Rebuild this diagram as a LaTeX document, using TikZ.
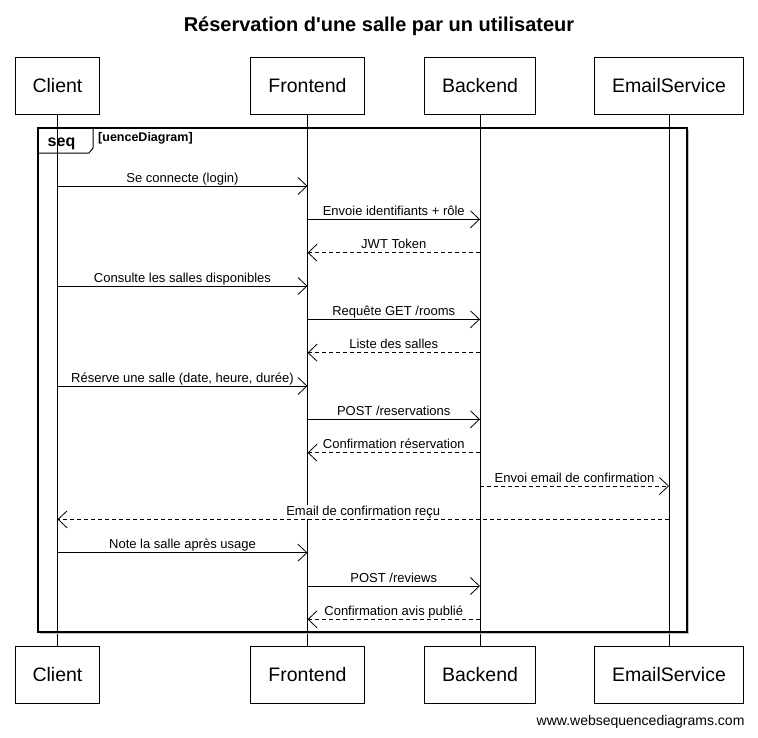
\documentclass[tikz,border=0pt]{standalone}
\usepackage{fontspec}
\setmainfont{Liberation Sans}
\usetikzlibrary{arrows.meta}

\tikzset{
    partbox/.style={draw, line width=0.9pt, minimum height=57pt, inner sep=0pt, font=\fontsize{19.5}{21}\selectfont},
    lifeline/.style={line width=0.8pt},
    msglabel/.style={fill=white, inner sep=1pt, anchor=base, yshift=4pt, font=\fontsize{13}{15}\selectfont},
    msg/.style={-{Straight Barb[length=9pt,width=17pt]}, line width=0.8pt},
    reply/.style={msg, dash pattern=on 4pt off 3pt},
}

\begin{document}
\begin{tikzpicture}[x=1pt,y=-1pt]
    \useasboundingbox (0,0) rectangle (758,737);

    \node[anchor=base, font=\bfseries\fontsize{20}{22}\selectfont] (title) at (379,31.5) {Réservation d\textquotesingle une salle par un utilisateur};

    \node[partbox, minimum width=84pt] (client) at (57.5,85.5) {Client};
    \node[partbox, minimum width=114pt] (front) at (307.5,85.5) {Frontend};
    \node[partbox, minimum width=111pt] (back) at (480,85.5) {Backend};
    \node[partbox, minimum width=149pt] (email) at (669,85.5) {EmailService};

    \node[partbox, minimum width=84pt] (clientb) at (57.5,674.5) {Client};
    \node[partbox, minimum width=114pt] (frontb) at (307.5,674.5) {Frontend};
    \node[partbox, minimum width=111pt] (backb) at (480,674.5) {Backend};
    \node[partbox, minimum width=149pt] (emailb) at (669,674.5) {EmailService};

    \draw[lifeline] (client) -- (clientb);
    \draw[lifeline] (front) -- (frontb);
    \draw[lifeline] (back) -- (backb);
    \draw[lifeline] (email) -- (emailb);

    \draw[gray!50, line width=1pt] (40,633.6) -- (688.6,633.6) -- (688.6,130);
    \draw[line width=1.6pt] (38,128) rectangle (687,632);
    \draw[line width=1pt] (38,153) -- (89,153) -- (93,148) -- (93,128);
    \node[anchor=base, font=\bfseries\fontsize{16}{18}\selectfont] (seq) at (61.5,146.5) {seq};
    \node[anchor=west, inner sep=0pt, font=\bfseries\fontsize{12.5}{14}\selectfont] (guard) at (98,138.5) {[uenceDiagram]};

    \draw[msg] (client |- 0,186) -- node[msglabel] {Se connecte (login)} (front |- 0,186);
    \draw[msg] (front |- 0,219.3) -- node[msglabel] {Envoie identifiants + rôle} (back |- 0,219.3);
    \draw[reply] (back |- 0,252.7) -- node[msglabel] {JWT Token} (front |- 0,252.7);
    \draw[msg] (client |- 0,286) -- node[msglabel] {Consulte les salles disponibles} (front |- 0,286);
    \draw[msg] (front |- 0,319.3) -- node[msglabel] {Requête GET /rooms} (back |- 0,319.3);
    \draw[reply] (back |- 0,352.7) -- node[msglabel] {Liste des salles} (front |- 0,352.7);
    \draw[msg] (client |- 0,386) -- node[msglabel] {Réserve une salle (date, heure, durée)} (front |- 0,386);
    \draw[msg] (front |- 0,419.3) -- node[msglabel] {POST /reservations} (back |- 0,419.3);
    \draw[reply] (back |- 0,452.7) -- node[msglabel] {Confirmation réservation} (front |- 0,452.7);
    \draw[reply] (back |- 0,486) -- node[msglabel] {Envoi email de confirmation} (email |- 0,486);
    \draw[reply] (email |- 0,519.3) -- node[msglabel] {Email de confirmation reçu} (client |- 0,519.3);
    \draw[msg] (client |- 0,552.7) -- node[msglabel] {Note la salle après usage} (front |- 0,552.7);
    \draw[msg] (front |- 0,586) -- node[msglabel] {POST /reviews} (back |- 0,586);
    \draw[reply] (back |- 0,619.3) -- node[msglabel] {Confirmation avis publié} (front |- 0,619.3);

    \node[anchor=base east, font=\fontsize{14}{16}\selectfont] (mark) at (748,725) {www.websequencediagrams.com};
\end{tikzpicture}
\end{document}
